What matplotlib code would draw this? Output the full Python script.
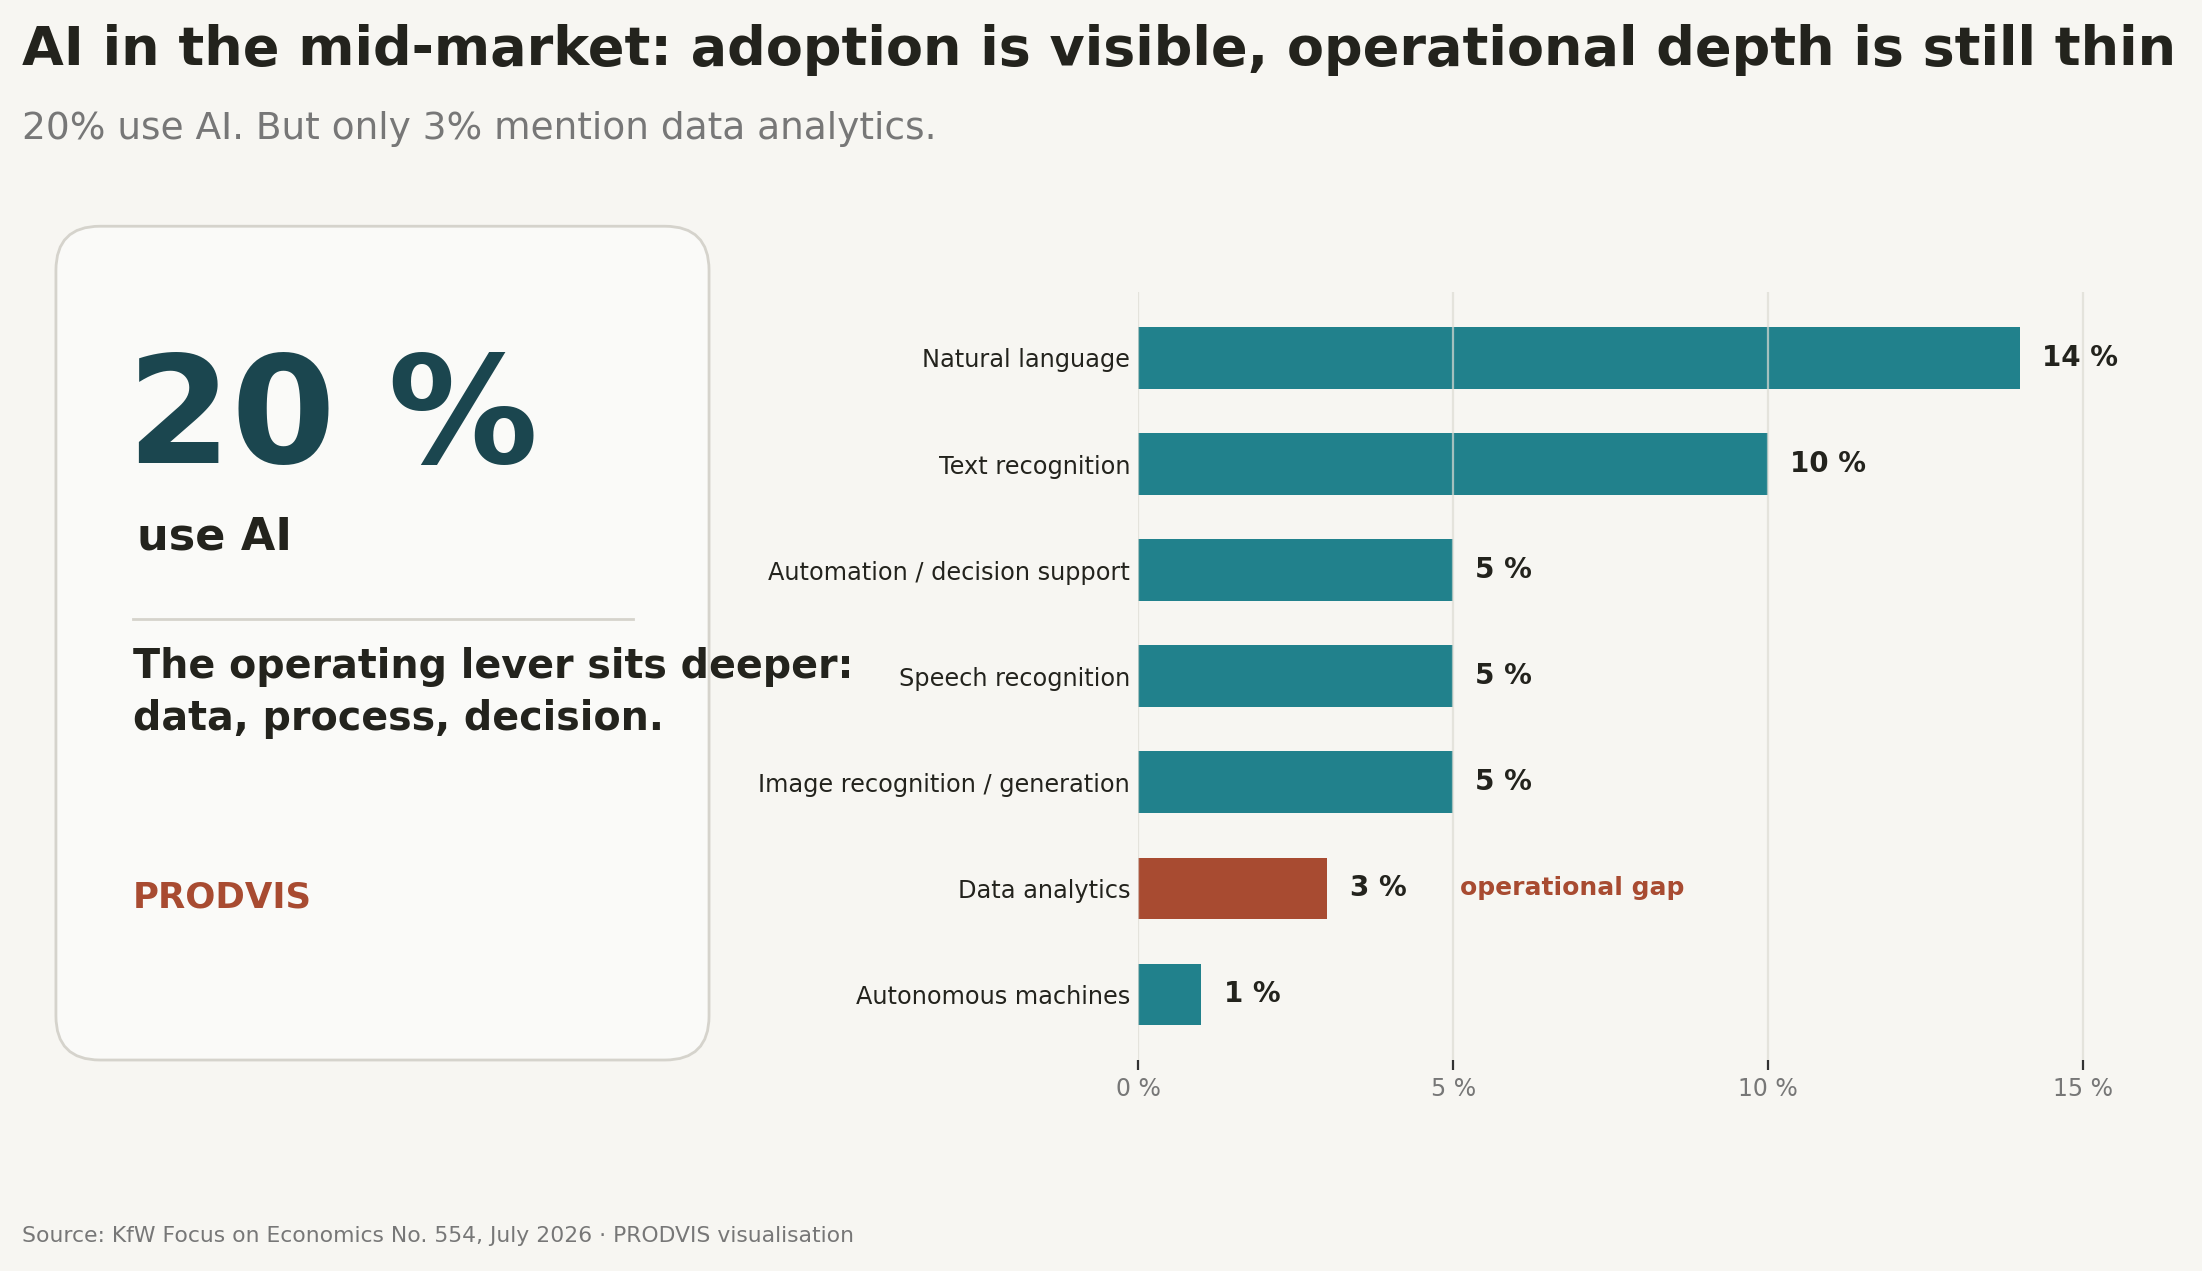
import matplotlib
matplotlib.use('Agg')
import matplotlib.pyplot as plt
from matplotlib.patches import FancyBboxPatch
from matplotlib.lines import Line2D

# data
categories = ['Natural language', 'Text recognition', 'Automation / decision support',
              'Speech recognition', 'Image recognition / generation', 'Data analytics',
              'Autonomous machines']
shares = [14, 10, 5, 5, 5, 3, 1]
highlight = 'Data analytics'
xticks = [0, 5, 10, 15]
xtick_labels = ['0 %', '5 %', '10 %', '15 %']

BG = '#f7f6f2'
TEAL = '#21818c'
RED = '#a84b31'
DARK = '#23231d'
GREY = '#777777'

fig = plt.figure(figsize=(11.01, 6.355), dpi=200, facecolor=BG)

# title block
fig.text(0.01, 0.949, 'AI in the mid-market: adoption is visible, operational depth is still thin',
         fontsize=19.45, fontweight='bold', color=DARK, va='baseline')
fig.text(0.01, 0.891, '20% use AI. But only 3% mention data analytics.',
         fontsize=13.5, color=GREY, va='baseline')

# left card
card = FancyBboxPatch((0.0254, 0.166), 0.2966, 0.656, transform=fig.transFigure,
                      boxstyle='round,pad=0,rounding_size=0.02', mutation_aspect=11.01/6.355,
                      facecolor='#fafaf8', edgecolor='#d5d3cc', linewidth=1.0)
fig.patches.append(card)
fig.text(0.0575, 0.636, '20 %', fontsize=54, fontweight='bold', color='#1b464f', va='baseline')
fig.text(0.062, 0.568, 'use AI', fontsize=16, fontweight='bold', color=DARK, va='baseline')
fig.lines.append(Line2D([0.0604, 0.2876], [0.513, 0.513], transform=fig.transFigure,
                        color='#d5d3cc', linewidth=1.0))
fig.text(0.0604, 0.4257, 'The operating lever sits deeper:\ndata, process, decision.',
         fontsize=14.25, fontweight='bold', color=DARK, va='baseline', linespacing=1.38)
fig.text(0.0604, 0.286, 'PRODVIS', fontsize=12.8, fontweight='bold', color=RED, va='baseline')

# bar chart
ax = fig.add_axes([0.517, 0.166, 0.4432, 0.604])
ax.set_facecolor(BG)
ypos = list(range(len(categories)))[::-1]
colors = [RED if c == highlight else TEAL for c in categories]
ax.barh(ypos, shares, height=0.58, color=colors, zorder=2)
ax.set_xlim(0, 15.5)
ax.set_yticks(ypos)
ax.set_yticklabels(categories, fontsize=8.65, color=DARK)
ax.set_xticks(xticks)
ax.set_xticklabels(xtick_labels, fontsize=8.5, color=GREY)
ax.tick_params(axis='y', length=0, pad=3)
ax.tick_params(axis='x', length=3.5, width=0.8, color='#333333', pad=2.5)
for s in ax.spines.values():
    s.set_visible(False)
ax.grid(axis='x', color='#dddbd4', linewidth=0.8, alpha=0.7, zorder=3)
ax.set_axisbelow(False)

for y, v in zip(ypos, shares):
    ax.annotate(f'{v} %', (v, y), xytext=(8, 0), textcoords='offset points',
                fontsize=10, fontweight='bold', color=DARK, va='center', ha='left')
gap_y = ypos[categories.index(highlight)]
ax.text(5.1, gap_y, 'operational gap', fontsize=9.0, fontweight='bold', color=RED,
        va='center', ha='left')

fig.text(0.01, 0.023, 'Source: KfW Focus on Economics No. 554, July 2026 \u00b7 PRODVIS visualisation',
         fontsize=7.9, color=GREY, va='baseline')

fig.savefig('out.png', dpi=200, facecolor=BG)
